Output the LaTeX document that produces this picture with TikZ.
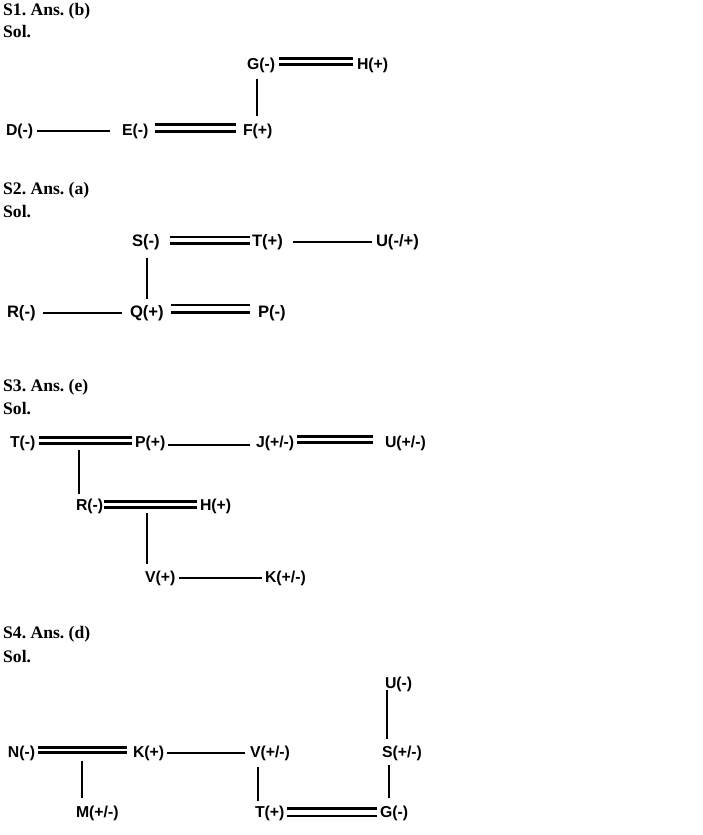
\documentclass[tikz,border=0pt]{standalone}
\usepackage{fontspec}
\setmainfont{Liberation Serif}
\newfontfamily\labfont{Liberation Sans}
\frenchspacing
\begin{document}
\begin{tikzpicture}[x=1pt,y=-1pt,
  lbl/.style={anchor=west,inner sep=0pt,outer sep=0pt,font=\labfont\bfseries\fontsize{15.8}{16}\selectfont},
  lblb/.style={lbl,font=\labfont\bfseries\fontsize{16.6}{17}\selectfont},
  hd/.style={anchor=west,inner sep=0pt,font=\bfseries\fontsize{17.6}{18}\selectfont},
  sgl/.style={line width=2.3pt},
  dbl/.style={line width=2.9pt,double distance=2.8pt}]
\useasboundingbox[fill=white] (0,0) rectangle (702,835);

% ---------------- S1 ----------------
\node[hd] (h1) at (3,11) {S1. Ans. (b)};
\node[hd] (sol1) at (3,32) {Sol.};
\node[lbl] (d1) at (6,131) {D(-)};
\node[lbl] (e1) at (122,131) {E(-)};
\node[lbl] (f1) at (243,131) {F(+)};
\node[lbl] (g1) at (247,65) {G(-)};
\node[lbl] (h1n) at (357,65) {H(+)};
\draw[sgl, shorten <=4pt, shorten >=12pt] (d1.east) -- (e1.west);
\draw[dbl, double distance=4.4pt, shorten <=7pt, shorten >=7pt] ([yshift=3pt]e1.east) -- ([yshift=3pt]f1.west);
\draw[dbl, shorten <=4pt, shorten >=4pt] ([yshift=3.5pt]g1.east) -- ([yshift=3.5pt]h1n.west);
\coordinate (v1) at (257,79);
\draw[sgl, shorten >=7.7pt] (v1) -- (v1 |- f1.north);

% ---------------- S2 ----------------
\node[hd] (h2) at (3,190) {S2. Ans. (a)};
\node[hd] (sol2) at (3,212) {Sol.};
\node[lblb] (s2) at (132,242) {S(-)};
\node[lblb] (t2) at (252,242) {T(+)};
\node[lblb] (u2) at (376,242) {U(-/+)};
\node[lblb] (r2) at (7,313) {R(-)};
\node[lblb] (q2) at (130,313) {Q(+)};
\node[lblb] (p2) at (258,313) {P(-)};
\draw[dbl, double distance=3.2pt, shorten <=10pt, shorten >=2pt] ([yshift=2pt]s2.east) -- ([yshift=2pt]t2.west);
\draw[sgl, shorten <=10pt, shorten >=4pt] (t2.east) -- (u2.west);
\draw[sgl, shorten <=7.4pt, shorten >=8pt] (r2.east) -- (q2.west);
\draw[dbl, double distance=4.2pt, shorten <=7pt, shorten >=8pt] ([yshift=4.5pt]q2.east) -- ([yshift=4.5pt]p2.west);
\coordinate (v2) at (147,258);
\draw[sgl, shorten >=6.3pt] (v2) -- (v2 |- q2.north);

% ---------------- S3 ----------------
\node[hd] (h3) at (3,387) {S3. Ans. (e)};
\node[hd] (sol3) at (3,409) {Sol.};
\node[lbl] (t3) at (10,443) {T(-)};
\node[lbl] (p3) at (135,443) {P(+)};
\node[lbl] (j3) at (256,443) {J(+/-)};
\node[lbl] (u3) at (385,443) {U(+/-)};
\node[lbl] (r3) at (76,506) {R(-)};
\node[lbl] (hh3) at (200,506) {H(+)};
\node[lbl] (v3) at (145,578) {V(+)};
\node[lbl] (k3) at (265,578) {K(+/-)};
\draw[dbl, shorten <=3.5pt, shorten >=3pt] ([yshift=2.5pt]t3.east) -- ([yshift=2.5pt]p3.west);
\draw[sgl, shorten <=3pt, shorten >=6pt] ([yshift=-2pt]p3.east) -- ([yshift=-2pt]j3.west);
\draw[dbl, shorten <=3pt, shorten >=12pt] ([yshift=3.5pt]j3.east) -- ([yshift=3.5pt]u3.west);
\coordinate (c3a) at (79,450);
\draw[sgl, shorten >=4.7pt] (c3a) -- (c3a |- r3.north);
\draw[dbl, shorten <=1pt, shorten >=3pt] ([yshift=1.5pt]r3.east) -- ([yshift=1.5pt]hh3.west);
\coordinate (c3b) at (147,513);
\draw[sgl, shorten >=6.7pt] (c3b) -- (c3b |- v3.north);
\draw[sgl, shorten <=4pt, shorten >=3pt] (v3.east) -- (k3.west);

% ---------------- S4 ----------------
\node[hd] (h4) at (3,634) {S4. Ans. (d)};
\node[hd] (sol4) at (3,657) {Sol.};
\node[lbl] (u4) at (385,684) {U(-)};
\node[lbl] (n4) at (8,753) {N(-)};
\node[lbl] (k4) at (133,753) {K(+)};
\node[lbl] (v4) at (250,753) {V(+/-)};
\node[lbl] (s4) at (382,753) {S(+/-)};
\node[lbl] (m4) at (76,813) {M(+/-)};
\node[lbl] (t4) at (255,813) {T(+)};
\node[lbl] (g4) at (380,813) {G(-)};
\coordinate (c4u) at (387,690);
\draw[sgl, shorten >=6.7pt] (c4u) -- (c4u |- s4.north);
\draw[dbl, shorten <=3pt, shorten >=6pt] ([yshift=3pt]n4.east) -- ([yshift=3pt]k4.west);
\draw[sgl, shorten <=3pt, shorten >=5pt] (k4.east) -- (v4.west);
\coordinate (c4m) at (82,761);
\draw[sgl, shorten >=7.7pt] (c4m) -- (c4m |- m4.north);
\coordinate (c4t) at (258,767);
\draw[sgl, shorten >=4.7pt] (c4t) -- (c4t |- t4.north);
\coordinate (c4g) at (389,765);
\draw[sgl, shorten >=7.7pt] (c4g) -- (c4g |- g4.north);
\draw[dbl, double distance=5pt, shorten <=3pt, shorten >=3pt] ([yshift=1pt]t4.east) -- ([yshift=1pt]g4.west);
\end{tikzpicture}
\end{document}
